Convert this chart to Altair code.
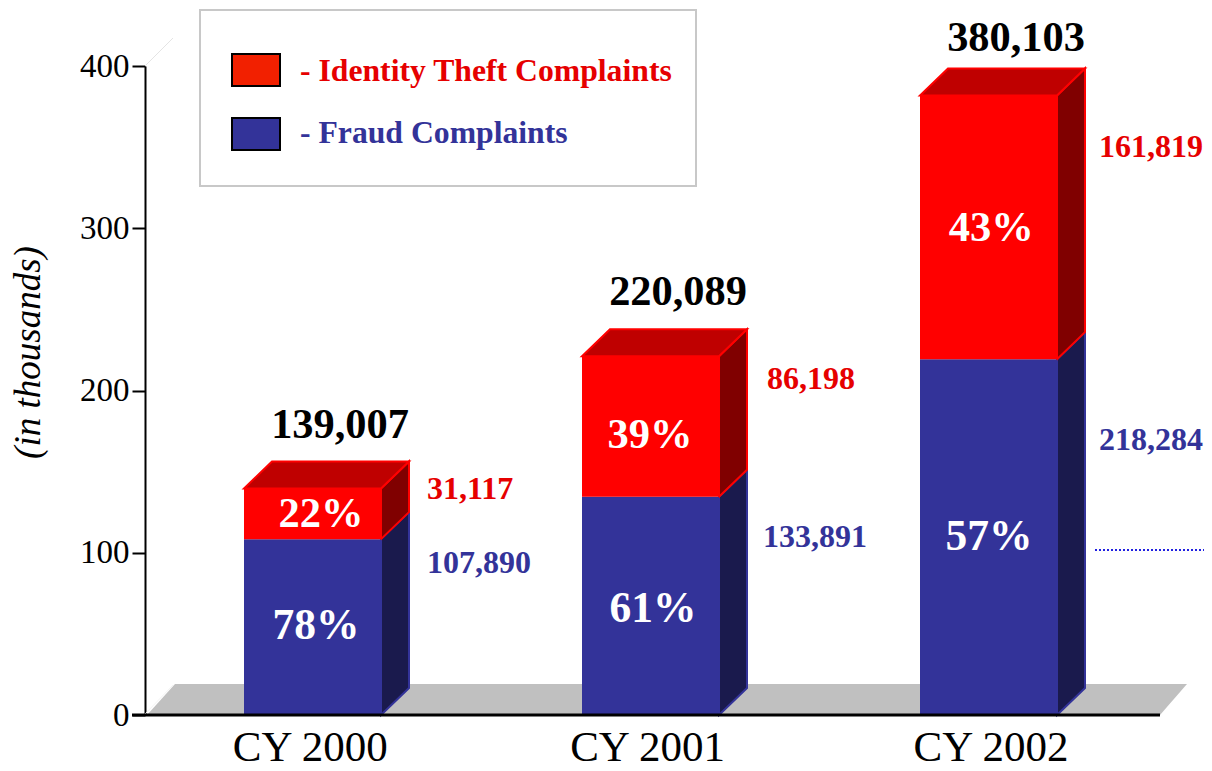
import altair as alt
import pandas as pd

years = ["CY 2000", "CY 2001", "CY 2002"]
fraud = [107.890, 133.891, 218.284]
identity = [31.117, 86.198, 161.819]
totals = [139.007, 220.089, 380.103]
fraud_txt = ["107,890", "133,891", "218,284"]
identity_txt = ["31,117", "86,198", "161,819"]
total_txt = ["139,007", "220,089", "380,103"]
fraud_pct = ["78%", "61%", "57%"]
identity_pct = ["22%", "39%", "43%"]
ticks = [0, 100, 200, 300, 400]

# layout constants (pixels of the plot area)
W, H = 1059, 649
UNIT = 338.0            # px between bar centres
X_LO = (145 - 313) / UNIT
X_HI = (1204 - 313) / UNIT
HALF_L = 69 / UNIT
HALF_R = 68 / UNIT
DX = 28 / UNIT
PX_K = 1.63             # px per thousand on the bars
DY = 27 / PX_K
FLOOR_DY = 31 / PX_K
Y_DOM = H / PX_K
FONT = "Liberation Serif"

# label nudges in thousands / bar spacings
total_lift = [38.8, 39.2, 35.0]
total_dx = 0.08
red_dx = [114 / UNIT, 116 / UNIT, 110 / UNIT]
blue_dx = [114 / UNIT, 112 / UNIT, 110 / UNIT]
red_side_off = [-0.6, -14.0, -31.8]
blue_side_off = [-14.7, -24.5, -49.7]
fraud_nudge_x = [0.009, 0.006, 0.0]
fraud_nudge_y = [0.5, -2.2, -0.2]
id_nudge_x = [0.024, -0.003, 0.007]
id_nudge_y = [0.0, -5.0, -0.5]
cat_nudge_x = [-0.008, -0.010, 0.006]

xs = alt.Scale(domain=[X_LO, X_HI], nice=False, zero=False)
ys = alt.Scale(domain=[0, Y_DOM], nice=False, zero=False)

fronts, sides, tops, floor = [], [], [], []
for i in range(3):
    l, r = i - HALF_L, i + HALF_R
    for name, y0, y1, fc, sc, st in [
        ("f", 0.0, fraud[i], "#333399", "#1A1A4D", "#333399"),
        ("i", fraud[i], totals[i], "#FF0000", "#800000", "#FF0000"),
    ]:
        fronts.append(dict(l=l, r=r, y0=y0, y1=y1, c=fc))
        sides.append(dict(k=f"{name}{i}", x=r, y0=y0, y1=y1, c=sc, s=st))
        sides.append(dict(k=f"{name}{i}", x=r + DX, y0=y0 + DY, y1=y1 + DY, c=sc, s=st))
    tops.append(dict(k=i, y=totals[i], l=l, r=r))
    tops.append(dict(k=i, y=totals[i] + DY, l=l + DX, r=r + DX))
floor.append(dict(y=0.0, l=X_LO + 2 / UNIT, r=(1160 - 313) / UNIT))
floor.append(dict(y=FLOOR_DY, l=(175 - 313) / UNIT, r=(1187 - 313) / UNIT))

floor_layer = alt.Chart(pd.DataFrame(floor)).mark_area(orient="horizontal", color="#C0C0C0").encode(
    y=alt.Y("y:Q", scale=ys, axis=None),
    x=alt.X("l:Q", scale=xs, axis=None),
    x2="r:Q",
)
side_layer = alt.Chart(pd.DataFrame(sides)).mark_area(strokeWidth=2, strokeJoin="miter").encode(
    x=alt.X("x:Q", scale=xs, axis=None),
    y=alt.Y("y0:Q", scale=ys, axis=None),
    y2="y1:Q",
    detail="k:N",
    fill=alt.Color("c:N", scale=None),
    stroke=alt.Color("s:N", scale=None),
)
top_layer = alt.Chart(pd.DataFrame(tops)).mark_area(
    orient="horizontal", color="#BF0000", stroke="#FF0000", strokeWidth=2
).encode(
    y=alt.Y("y:Q", scale=ys, axis=None),
    x=alt.X("l:Q", scale=xs, axis=None),
    x2="r:Q",
    detail="k:N",
)
front_layer = alt.Chart(pd.DataFrame(fronts)).mark_rect().encode(
    x=alt.X("l:Q", scale=xs, axis=None),
    x2="r:Q",
    y=alt.Y("y0:Q", scale=ys, axis=None),
    y2="y1:Q",
    fill=alt.Color("c:N", scale=None),
)


def text_layer(rows, size, color, align="center", weight="bold"):
    return alt.Chart(pd.DataFrame(rows)).mark_text(
        font=FONT, fontSize=size, fontWeight=weight, color=color, align=align, baseline="middle"
    ).encode(
        x=alt.X("x:Q", scale=xs, axis=None),
        y=alt.Y("y:Q", scale=ys, axis=None),
        text="t:N",
    )


totals_t = text_layer(
    [dict(x=i + total_dx, y=totals[i] + total_lift[i], t=total_txt[i]) for i in range(3)], 42.4, "#000000")
red_t = text_layer(
    [dict(x=i + red_dx[i], y=totals[i] + red_side_off[i], t=identity_txt[i]) for i in range(3)], 32, "#E60000", "left")
blue_t = text_layer(
    [dict(x=i + blue_dx[i], y=fraud[i] + blue_side_off[i], t=fraud_txt[i]) for i in range(3)], 32, "#333399", "left")
pct_f = text_layer(
    [dict(x=i + fraud_nudge_x[i], y=fraud[i] / 2 + fraud_nudge_y[i], t=fraud_pct[i]) for i in range(3)], 43.5, "#FFFFFF")
pct_i = text_layer(
    [dict(x=i + id_nudge_x[i], y=fraud[i] + identity[i] / 2 + id_nudge_y[i], t=identity_pct[i]) for i in range(3)],
    42.5, "#FFFFFF")
cat_t = alt.Chart(pd.DataFrame({"x": [i + cat_nudge_x[i] for i in range(3)], "t": years})).mark_text(
    font=FONT, fontSize=43, color="#000000", align="center", baseline="alphabetic", dy=46
).encode(
    x=alt.X("x:Q", scale=xs, axis=None),
    y=alt.value(H),
    text="t:N",
)

one = pd.DataFrame({"a": [0]})


def rect(x0, x1, y0, y1, fill, stroke=None, sw=2):
    kw = dict(fill=fill, strokeWidth=sw)
    if stroke:
        kw["stroke"] = stroke
    return alt.Chart(one).mark_rect(**kw).encode(
        x=alt.value(x0), x2=alt.value(x1), y=alt.value(y0), y2=alt.value(y1))


def line(x0, x1, y0, y1, color, sw, dash=None):
    kw = dict(color=color, strokeWidth=sw)
    if dash:
        kw["strokeDash"] = dash
    return alt.Chart(one).mark_rule(**kw).encode(
        x=alt.value(x0), x2=alt.value(x1), y=alt.value(y0), y2=alt.value(y1))


def note(x, y, t, color):
    return alt.Chart(pd.DataFrame({"t": [t]})).mark_text(
        font=FONT, fontSize=31.7, fontWeight="bold", color=color, align="left", baseline="middle"
    ).encode(x=alt.value(x), y=alt.value(y), text="t:N")


OX, OY = 145, 66  # page position of the plot origin
legend = [
    rect(200 - OX, 696 - OX, 10 - OY, 186 - OY, "#FFFFFF", "#C8C8C8", 2),
    rect(232 - OX, 280 - OX, 54 - OY, 86 - OY, "#F22000", "#000000", 2),
    rect(232 - OX, 280 - OX, 118 - OY, 150 - OY, "#333399", "#000000", 2),
    note(300 - OX, 71 - OY, "- Identity Theft Complaints", "#E60000"),
    note(300 - OX, 133 - OY, "- Fraud Complaints", "#333399"),
]
extras = [
    line(0, 28, 0, -28, "#E4E4E4", 1),
    line(0, 28, H - 1, H - 30, "#F4F4F4", 1),
    line(-13, 1015, H, H, "#000000", 3),
    line(1095 - OX, 1204 - OX, 550 - OY, 550 - OY, "#2020E0", 2, [2, 2]),
]

marks = alt.layer(
    floor_layer, side_layer, top_layer, front_layer,
    *extras, totals_t, red_t, blue_t, pct_f, pct_i, cat_t, *legend,
)

axis_layer = alt.Chart(pd.DataFrame({"v": ticks})).mark_point(opacity=0).encode(
    y=alt.Y(
        "v:Q",
        scale=alt.Scale(domain=[0, 400], nice=False),
        axis=alt.Axis(
            values=ticks, format="d", title="(in thousands)", grid=False,
            domainColor="#000000", domainWidth=2, tickColor="#000000", tickWidth=2, tickSize=13,
            labelFont=FONT, labelFontSize=33, labelColor="#000000", labelPadding=3,
            titleFont=FONT, titleFontSize=37, titleFontStyle="italic", titleFontWeight="normal",
            titleColor="#000000", titlePadding=32, titleY=286,
        ),
    ),
)

chart = alt.layer(axis_layer, marks).resolve_scale(y="independent").properties(
    width=W, height=H,
    padding={"left": 137, "top": 58, "right": 0, "bottom": 48},
    autosize=alt.AutoSizeParams(type="none"),
    background="#FFFFFF",
).configure_view(stroke=None)

chart.save("out.html", embed_options={"renderer": "svg", "actions": False})
